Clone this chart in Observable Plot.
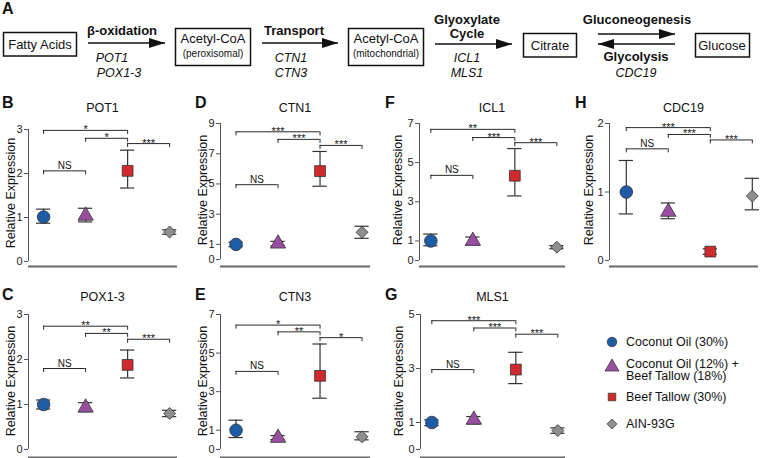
<!DOCTYPE html>
<html><head><meta charset="utf-8">
<script src="https://cdn.jsdelivr.net/npm/d3@7"></script>
<script src="https://cdn.jsdelivr.net/npm/@observablehq/plot@0.6"></script>
<style>
html,body{margin:0;padding:0;background:#fff;}
#fig{position:relative;width:760px;height:458px;overflow:hidden;font-family:"Liberation Sans",Arial,Helvetica,sans-serif;color:#111;}
.abs{position:absolute;}
.letter{font-weight:bold;font-size:16px;line-height:16px;}
.title{font-size:12.5px;line-height:14px;text-align:center;white-space:nowrap;}
</style></head>
<body><div id="fig"></div>
<script>
// ---------- data ----------
const groups = ["Coconut Oil (30%)", "Coconut Oil (12%) + Beef Tallow (18%)", "Beef Tallow (30%)", "AIN-93G"];
const comparisons = [[1, 3], [2, 3], [3, 4], [1, 2]];
const genes = ["POT1", "CTN1", "ICL1", "CDC19", "POX1-3", "CTN3", "MLS1"];

const POT1_mean = [1.01, 1.04, 2.06, 0.67];
const POT1_low  = [0.87, 0.90, 1.67, 0.62];
const POT1_high = [1.19, 1.21, 2.53, 0.72];
const POT1_sig  = ["*", "*", "***", "NS"];
const POT1_sigY = [2.98, 2.80, 2.68, 2.06];
const POT1_ticks = [0, 1, 2, 3];

const POX13_mean = [1.00, 0.93, 1.88, 0.80];
const POX13_low  = [0.90, 0.84, 1.59, 0.73];
const POX13_high = [1.10, 1.04, 2.21, 0.87];
const POX13_sig  = ["**", "**", "***", "NS"];
const POX13_sigY = [2.74, 2.58, 2.45, 1.80];
const POX13_ticks = [0, 1, 2, 3];

const CTN1_mean = [1.00, 1.05, 5.85, 1.80];
const CTN1_low  = [0.85, 0.90, 4.85, 1.40];
const CTN1_high = [1.15, 1.20, 7.15, 2.20];
const CTN1_sig  = ["***", "***", "***", "NS"];
const CTN1_sigY = [8.45, 7.95, 7.55, 4.95];
const CTN1_ticks = [0, 1, 3, 5, 7, 9];

const CTN3_mean = [1.00, 0.60, 3.82, 0.66];
const CTN3_low  = [0.62, 0.52, 2.66, 0.50];
const CTN3_high = [1.52, 0.72, 5.47, 0.92];
const CTN3_sig  = ["*", "**", "*", "NS"];
const CTN3_sigY = [6.45, 6.10, 5.80, 4.05];
const CTN3_ticks = [0, 1, 3, 5, 7];

const ICL1_mean = [1.00, 1.00, 4.33, 0.68];
const ICL1_low  = [0.75, 0.80, 3.30, 0.60];
const ICL1_high = [1.35, 1.20, 5.72, 0.76];
const ICL1_sig  = ["**", "***", "***", "NS"];
const ICL1_sigY = [6.70, 6.28, 6.02, 4.35];
const ICL1_ticks = [0, 1, 3, 5, 7];

const MLS1_mean = [1.00, 1.10, 2.96, 0.70];
const MLS1_low  = [0.88, 0.95, 2.44, 0.60];
const MLS1_high = [1.10, 1.22, 3.60, 0.80];
const MLS1_sig  = ["***", "***", "***", "NS"];
const MLS1_sigY = [4.77, 4.50, 4.27, 2.96];
const MLS1_ticks = [0, 1, 3, 5];

const CDC19_mean = [1.00, 0.71, 0.13, 0.94];
const CDC19_low  = [0.68, 0.61, 0.09, 0.74];
const CDC19_high = [1.46, 0.84, 0.17, 1.20];
const CDC19_sig  = ["***", "***", "***", "NS"];
const CDC19_sigY = [1.94, 1.84, 1.76, 1.63];
const CDC19_ticks = [0, 1, 2];

const geneData = {
  "POT1":   {mean: POT1_mean, low: POT1_low, high: POT1_high, sig: POT1_sig, sigY: POT1_sigY, ticks: POT1_ticks},
  "POX1-3": {mean: POX13_mean, low: POX13_low, high: POX13_high, sig: POX13_sig, sigY: POX13_sigY, ticks: POX13_ticks},
  "CTN1":   {mean: CTN1_mean, low: CTN1_low, high: CTN1_high, sig: CTN1_sig, sigY: CTN1_sigY, ticks: CTN1_ticks},
  "CTN3":   {mean: CTN3_mean, low: CTN3_low, high: CTN3_high, sig: CTN3_sig, sigY: CTN3_sigY, ticks: CTN3_ticks},
  "ICL1":   {mean: ICL1_mean, low: ICL1_low, high: ICL1_high, sig: ICL1_sig, sigY: ICL1_sigY, ticks: ICL1_ticks},
  "MLS1":   {mean: MLS1_mean, low: MLS1_low, high: MLS1_high, sig: MLS1_sig, sigY: MLS1_sigY, ticks: MLS1_ticks},
  "CDC19":  {mean: CDC19_mean, low: CDC19_low, high: CDC19_high, sig: CDC19_sig, sigY: CDC19_sigY, ticks: CDC19_ticks}
};

// ---------- styles / layout ----------
const groupColors = ["#1f5ca6", "#9a4e9f", "#d0292e", "#8e8e8e"];
const groupSymbols = ["circle", "triangle", "square", "diamond2"];
const d3Symbols = {circle: d3.symbolCircle, triangle: d3.symbolTriangle, square: d3.symbolSquare, diamond2: d3.symbolDiamond2};
const dotR = [6.3, 5.7, 6.1, 5.4];
const legendR = [4.8, 5.2, 4.3, 4.6];
const FONT = '"Liberation Sans", Arial, Helvetica, sans-serif';

const layout = [
  {gene: "POT1",   letter: "B", letterX: 2,   axisX: 28,  yTop: 129, y0: 261, base: 266, right: 177, xMin: 0.64, labelDx: -14, titleY: 108, letterY: 103},
  {gene: "CTN1",   letter: "D", letterX: 195, axisX: 220, yTop: 123, y0: 259, base: 266, right: 370, xMin: 0.63, labelDx: -13.5, titleY: 108, letterY: 103},
  {gene: "ICL1",   letter: "F", letterX: 385, axisX: 419, yTop: 123, y0: 260, base: 266, right: 565, xMin: 0.73, labelDx: -18, titleY: 108, letterY: 103},
  {gene: "CDC19",  letter: "H", letterX: 575, axisX: 609, yTop: 123, y0: 260, base: 266, right: 758, xMin: 0.60, labelDx: -17, titleY: 108, letterY: 103},
  {gene: "POX1-3", letter: "C", letterX: 2,   axisX: 28,  yTop: 314, y0: 449, base: 457, right: 177, xMin: 0.64, labelDx: -14, titleY: 297, letterY: 295},
  {gene: "CTN3",   letter: "E", letterX: 195, axisX: 220, yTop: 314, y0: 449, base: 457, right: 370, xMin: 0.63, labelDx: -13.5, titleY: 297, letterY: 295},
  {gene: "MLS1",   letter: "G", letterX: 385, axisX: 420, yTop: 314, y0: 449, base: 457, right: 565, xMin: 0.73, labelDx: -18, titleY: 297, letterY: 295}
];

const fig = document.getElementById("fig");

// ---------- pathway diagram (panel A) ----------
fig.insertAdjacentHTML("beforeend", `
<svg class="abs" style="left:0;top:0" width="760" height="90" font-family='${FONT}'>
<defs><marker id="ah" viewBox="0 0 16 10" refX="16" refY="5" markerWidth="16" markerHeight="10" markerUnits="userSpaceOnUse" orient="auto"><path d="M0,0L16,5L0,10Z" fill="#111"/></marker></defs>
<g fill="#111">
<text x="2" y="14" font-weight="bold" font-size="16">A</text>
<rect x="3.5" y="32.5" width="73" height="23.5" fill="none" stroke="#111" stroke-width="1.5"/>
<text x="40" y="49" text-anchor="middle" font-size="13">Fatty Acids</text>
<line x1="88" y1="43" x2="165" y2="43" stroke="#111" stroke-width="1.6" marker-end="url(#ah)"/>
<text x="122" y="35" text-anchor="middle" font-size="13" font-weight="bold">β-oxidation</text>
<text x="112" y="62" text-anchor="middle" font-size="12.5" font-style="italic">POT1</text>
<text x="119" y="77" text-anchor="middle" font-size="12.5" font-style="italic">POX1-3</text>
<rect x="175.5" y="28.5" width="75" height="37" fill="none" stroke="#111" stroke-width="1.5"/>
<text x="213" y="43" text-anchor="middle" font-size="13">Acetyl-CoA</text>
<text x="213" y="57" text-anchor="middle" font-size="10">(peroxisomal)</text>
<line x1="262" y1="43" x2="338" y2="43" stroke="#111" stroke-width="1.6" marker-end="url(#ah)"/>
<text x="294" y="35" text-anchor="middle" font-size="13" font-weight="bold">Transport</text>
<text x="291" y="62" text-anchor="middle" font-size="12.5" font-style="italic">CTN1</text>
<text x="291" y="77" text-anchor="middle" font-size="12.5" font-style="italic">CTN3</text>
<rect x="348.5" y="28.5" width="75" height="37" fill="none" stroke="#111" stroke-width="1.5"/>
<text x="386" y="43" text-anchor="middle" font-size="13">Acetyl-CoA</text>
<text x="386" y="57" text-anchor="middle" font-size="10">(mitochondrial)</text>
<line x1="435" y1="44" x2="512" y2="44" stroke="#111" stroke-width="1.6" marker-end="url(#ah)"/>
<text x="467" y="24" text-anchor="middle" font-size="13" font-weight="bold">Glyoxylate</text>
<text x="467" y="38" text-anchor="middle" font-size="13" font-weight="bold">Cycle</text>
<text x="467" y="62" text-anchor="middle" font-size="12.5" font-style="italic">ICL1</text>
<text x="467" y="77" text-anchor="middle" font-size="12.5" font-style="italic">MLS1</text>
<rect x="523.5" y="33.5" width="53" height="23.5" fill="none" stroke="#111" stroke-width="1.5"/>
<text x="550" y="50" text-anchor="middle" font-size="13">Citrate</text>
<line x1="598" y1="34" x2="675" y2="34" stroke="#111" stroke-width="1.6" marker-end="url(#ah)"/>
<line x1="675" y1="44" x2="598" y2="44" stroke="#111" stroke-width="1.6" marker-end="url(#ah)"/>
<text x="637" y="24" text-anchor="middle" font-size="13" font-weight="bold">Gluconeogenesis</text>
<text x="636" y="61" text-anchor="middle" font-size="13" font-weight="bold">Glycolysis</text>
<text x="636" y="77" text-anchor="middle" font-size="12.5" font-style="italic">CDC19</text>
<rect x="695.5" y="33.5" width="54" height="23.5" fill="none" stroke="#111" stroke-width="1.5"/>
<text x="722" y="50" text-anchor="middle" font-size="13">Glucose</text>
</g></svg>`);

// ---------- expression panels ----------
function drawPanel(L) {
  const d = geneData[L.gene];
  const mL = 30, mT = 24, mR = 3, mB = 2;
  const svgTop = L.yTop - mT;
  const innerW = L.right - L.axisX;
  const width = mL + innerW + mR;
  const height = (L.base - svgTop) + mB;
  const ymax = d.ticks[d.ticks.length - 1];
  const pxPerUnit = (L.y0 - L.yTop) / ymax;
  const drop = 4 / pxPerUnit;
  const xMin = L.xMin, xMax = L.xMin + innerW / 42;
  const cap = 0.17;
  const ink = "#111";
  const rows = groups.map((g, i) => ({i, g, x: i + 1, m: d.mean[i], lo: d.low[i], hi: d.high[i]}));
  const br = comparisons.map(([a, b], k) => ({x1: a, x2: b, y: d.sigY[k], label: d.sig[k]}));

  const plot = Plot.plot({
    width, height,
    marginLeft: mL, marginTop: mT, marginRight: mR, marginBottom: mB,
    style: {background: "transparent", overflow: "visible", fontFamily: FONT, fontSize: "11px"},
    x: {domain: [xMin, xMax], axis: null},
    y: {domain: [0, ymax], range: [L.y0 - svgTop, L.yTop - svgTop], axis: null},
    marks: [
      Plot.ruleX([xMin], {y1: 0, y2: ymax, stroke: "#555", strokeWidth: 1}),
      Plot.axisY(d.ticks, {anchor: "left", tickSize: 4, tickPadding: 2, fontSize: 11, tickFormat: d3.format("d"), stroke: "#555", fill: "#222", label: null}),
      Plot.ruleY([0], {x1: xMin, x2: xMax, dy: L.base - L.y0, stroke: "#666", strokeWidth: 1.8}),
      Plot.text(["Relative Expression"], {text: t => t, frameAnchor: "left", rotate: -90, textAnchor: "middle", lineAnchor: "bottom", dx: L.labelDx, dy: -5, fontSize: 12.5, fill: ink}),
      Plot.ruleY(br, {y: "y", x1: "x1", x2: "x2", stroke: ink, strokeWidth: 0.9}),
      Plot.ruleX(br, {x: "x1", y1: "y", y2: b => b.y - drop, stroke: ink, strokeWidth: 0.9}),
      Plot.ruleX(br, {x: "x2", y1: "y", y2: b => b.y - drop, stroke: ink, strokeWidth: 0.9}),
      Plot.text(br.filter(b => b.label !== "NS"), {x: b => (b.x1 + b.x2) / 2, y: "y", text: "label", fontSize: 11, lineAnchor: "bottom", dy: 3, fill: ink}),
      Plot.text(br.filter(b => b.label === "NS"), {x: b => (b.x1 + b.x2) / 2, y: "y", text: "label", fontSize: 10, lineAnchor: "bottom", dy: -2, fill: ink}),
      Plot.ruleX(rows, {x: "x", y1: "lo", y2: "hi", stroke: "#333", strokeWidth: 1.2}),
      Plot.ruleY(rows, {y: "hi", x1: r => r.x - cap, x2: r => r.x + cap, stroke: "#333", strokeWidth: 1.2}),
      Plot.ruleY(rows, {y: "lo", x1: r => r.x - cap, x2: r => r.x + cap, stroke: "#333", strokeWidth: 1.2}),
      ...groups.map((g, i) => Plot.dot([rows[i]], {x: "x", y: "m", symbol: groupSymbols[i], r: dotR[i], fill: groupColors[i], stroke: "#333", strokeWidth: 0.8}))
    ]
  });
  const wrap = document.createElement("div");
  wrap.className = "abs";
  wrap.style.left = (L.axisX - mL) + "px";
  wrap.style.top = svgTop + "px";
  wrap.style.width = width + "px";
  wrap.style.height = height + "px";
  wrap.appendChild(plot);
  fig.appendChild(wrap);

  const t = document.createElement("div");
  t.className = "abs title";
  t.textContent = L.gene;
  t.style.left = L.axisX + "px";
  t.style.width = innerW + "px";
  t.style.top = (L.titleY - 7) + "px";
  fig.appendChild(t);

  const l = document.createElement("div");
  l.className = "abs letter";
  l.textContent = L.letter;
  l.style.left = L.letterX + "px";
  l.style.top = (L.letterY - 8) + "px";
  fig.appendChild(l);
}
layout.forEach(drawPanel);

// ---------- legend ----------
const legendX = 612, legendTextX = 626;
const legendSymY = [342, 367, 397, 424];
const legendTextY = [[346], [367.5, 380], [400.5], [428]];
let lg = `<svg class="abs" style="left:0;top:0" width="760" height="458" font-family='${FONT}'>`;
groups.forEach((g, i) => {
  const path = d3.symbol(d3Symbols[groupSymbols[i]], Math.PI * legendR[i] * legendR[i])();
  lg += `<path transform="translate(${legendX},${legendSymY[i]})" d="${path}" fill="${groupColors[i]}" stroke="#333" stroke-width="0.7"/>`;
  const lines = g.replace(" + ", " +\n").split("\n");
  lines.forEach((line, k) => {
    lg += `<text x="${legendTextX}" y="${legendTextY[i][k]}" font-size="12.5" fill="#111">${line}</text>`;
  });
});
lg += `</svg>`;
fig.insertAdjacentHTML("beforeend", lg);
</script></body></html>
